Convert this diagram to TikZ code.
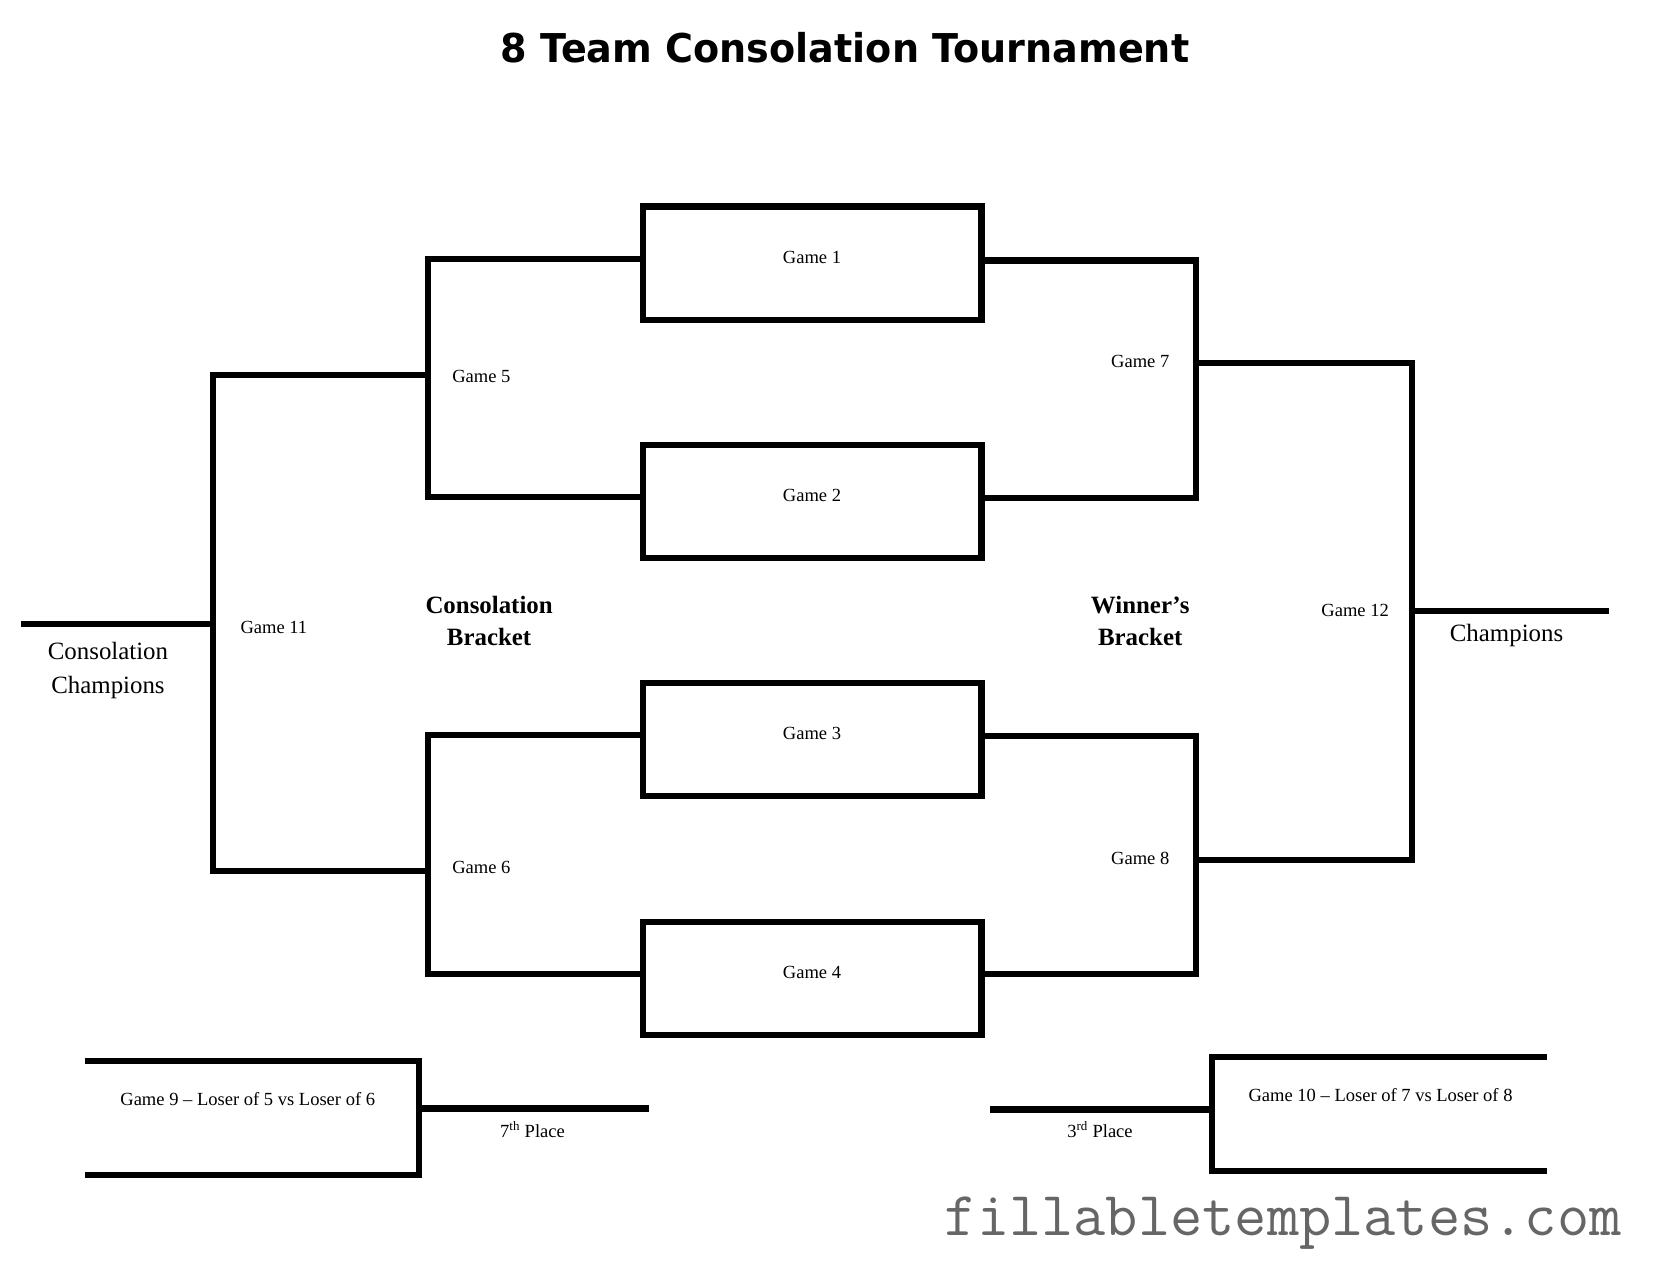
\documentclass[tikz,border=0pt]{standalone}
\usepackage{fontspec}
\setmainfont{Liberation Serif}
\newfontfamily\titlefont{DejaVu Sans}
\begin{document}
\begin{tikzpicture}[x=1pt,y=-1pt,line join=miter,
  bline/.style={draw,line width=5.8pt},
  gamebox/.style={draw,line width=5.8pt,minimum width=320pt,minimum height=107pt,inner sep=0pt,
    font=\fontsize{17.5}{20}\selectfont,text height=6pt,text depth=6pt},
  lbl/.style={inner sep=0pt,anchor=base,font=\fontsize{17.5}{20}\selectfont},
  boldlbl/.style={inner sep=0pt,anchor=base,align=center,font=\fontsize{23.5}{31}\selectfont\bfseries},
  biglbl/.style={inner sep=0pt,anchor=base,align=center,font=\fontsize{23.5}{32}\selectfont}]
\useasboundingbox[fill=white] (0,0) rectangle (1567,1211);

% title
\node[inner sep=0pt,anchor=base] (title) at (798,59)
  {\scalebox{0.96}[1]{\titlefont\fontsize{37.5}{40}\selectfont\bfseries 8 Team Consolation Tournament}};

% first round boxes
\node[gamebox] (g1) at (767,248.5) {Game 1};
\node[gamebox] (g2) at (767,473.5) {Game 2};
\node[gamebox] (g3) at (767,698.5) {Game 3};
\node[gamebox] (g4) at (767,924) {Game 4};

% junction coordinates
\coordinate (c5) at (404,354);
\coordinate (c6) at (404,823);
\coordinate (c11) at (201,589);
\coordinate (cc) at (20,589);
\coordinate (c7) at (1130,343);
\coordinate (c8) at (1130,812);
\coordinate (c12) at (1334,577);
\coordinate (ch) at (1520,577);

% consolation bracket
\draw[bline] ([yshift=4pt]g1.west) -| (c5) |- ([yshift=4pt]g2.west);
\draw[bline] ([yshift=4pt]g3.west) -| (c6) |- ([yshift=4pt]g4.west);
\draw[bline] (c5) -| (c11) |- (c6);
\draw[bline] (c11) -- (cc);

% winner's bracket
\draw[bline] ([yshift=2.5pt]g1.east) -| (c7) |- ([yshift=3.5pt]g2.east);
\draw[bline] ([yshift=3.5pt]g3.east) -| (c8) |- ([yshift=4pt]g4.east);
\draw[bline] (c7) -| (c12) |- (c8);
\draw[bline] (c12) -- (ch);

% game 9
\coordinate (g9t) at (80,1002);
\coordinate (g9b) at (80,1110);
\coordinate (c9) at (396,1047);
\coordinate (p7) at (613,1047);
\draw[bline] (g9t) -| (c9) |- (g9b);
\draw[bline] (c9) -- (p7);

% game 10
\coordinate (g10t) at (1461,998);
\coordinate (g10b) at (1461,1106);
\coordinate (c10) at (1145,1048);
\coordinate (p3) at (935,1048);
\draw[bline] (g10t) -| (c10) |- (g10b);
\draw[bline] (c10) -- (p3);

% labels
\node[lbl,anchor=base west] (l5) at (427,361) {Game 5};
\node[lbl,anchor=base west] (l6) at (427,825) {Game 6};
\node[lbl,anchor=base west] (l11) at (227,598) {Game 11};
\node[lbl] (l7) at (1077,347) {Game 7};
\node[lbl] (l8) at (1077,817) {Game 8};
\node[lbl] (l12) at (1280,582) {Game 12};
\node[boldlbl] (cb) at (462,610) {Consolation\\Bracket};
\node[boldlbl] (wb) at (1077,610) {Winner’s\\Bracket};
\node[biglbl] (ccl) at (102,655) {Consolation\\Champions};
\node[biglbl] (chl) at (1423,606) {Champions};
\node[lbl] (l9) at (234,1044) {Game 9 – Loser of 5 vs Loser of 6};
\node[lbl] (l7p) at (503,1074) {7\textsuperscript{th} Place};
\node[lbl] (l10) at (1304,1040) {Game 10 – Loser of 7 vs Loser of 8};
\node[lbl] (l3p) at (1039,1074) {3\textsuperscript{rd} Place};

% watermark
\node[inner sep=0pt,anchor=base,text=black!60] (wm) at (1212,1167)
  {\ttfamily\fontsize{59.1}{61}\selectfont fillabletemplates.com};
\end{tikzpicture}
\end{document}
